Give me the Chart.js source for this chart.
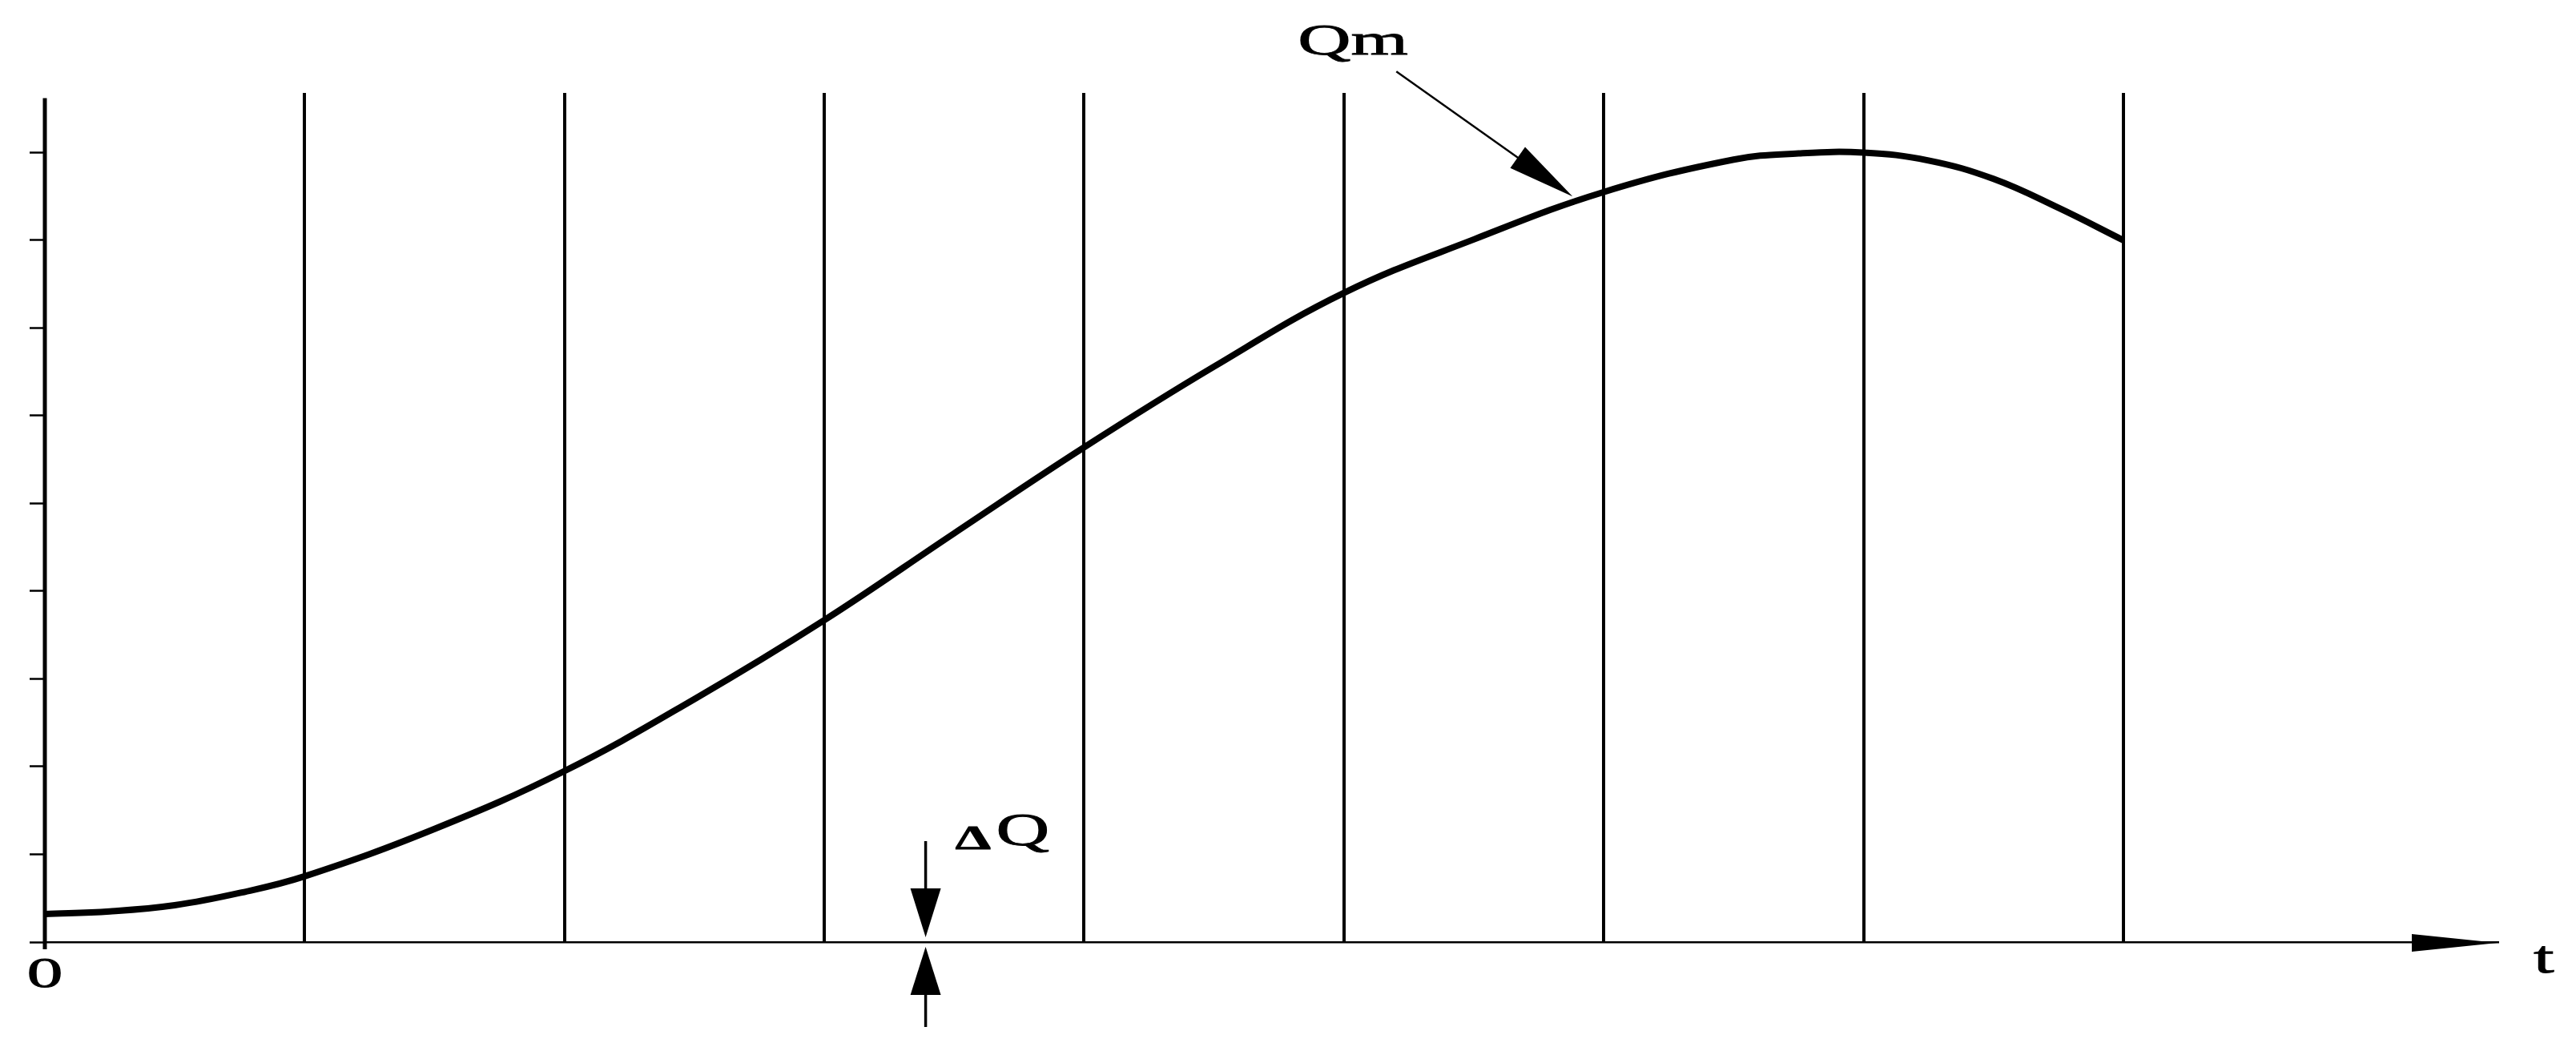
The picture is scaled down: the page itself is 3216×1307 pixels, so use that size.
<!DOCTYPE html>
<html>
<head>
<meta charset="utf-8">
<script src="https://cdn.jsdelivr.net/npm/chart.js@4.4.1/dist/chart.umd.min.js"></script>
<style>
  html, body { margin: 0; padding: 0; background: #fff; }
  canvas { display: block; background: #fff; }
</style>
</head>
<body>
<canvas id="chart" width="3216" height="1307"></canvas>
<script>
// curve: t in grid divisions, Q in y-tick units
const tValues = [0, 0.25, 0.5, 0.75, 1, 1.5, 2, 2.5, 3, 3.5, 4, 4.5, 5, 5.5, 6, 6.5, 6.75, 7, 7.25, 7.5, 7.75, 8];
const qValues = [0.32, 0.35, 0.42, 0.56, 0.75, 1.29, 1.95, 2.77, 3.67, 4.66, 5.64, 6.56, 7.40, 8.01, 8.55, 8.92, 8.99, 9.0, 8.91, 8.70, 8.37, 8.0];

// vertical lines and y tick marks
const tGrid = [1, 2, 3, 4, 5, 6, 7, 8];
const qTicks = [0, 1, 2, 3, 4, 5, 6, 7, 8, 9];

// axis ends
const tMax = 9.44;
const qMax = 9.68;
const qAxisTop = 9.62;

// where the annotations sit (data units)
const qmTip = { t: 5.88, q: 8.50 };
const dqAt = 3.39;

const serif = "'Liberation Serif', 'Times New Roman', serif";

// stretched serif text, like the original drawing
function wideText(ctx, text, x, y, size, sx, bold, align) {
    ctx.save();
    ctx.font = (bold ? "bold " : "") + size + "px " + serif;
    ctx.textBaseline = "alphabetic";
    ctx.translate(x, y);
    ctx.scale(sx, 1);
    ctx.textAlign = align || "left";
    ctx.fillStyle = "#000";
    ctx.strokeStyle = "#000";
    ctx.lineWidth = 0.8;
    ctx.fillText(text, 0, 0);
    ctx.strokeText(text, 0, 0);
    ctx.restore();
}

function tri(ctx, a, b, c) {
    ctx.beginPath();
    ctx.moveTo(a[0], a[1]);
    ctx.lineTo(b[0], b[1]);
    ctx.lineTo(c[0], c[1]);
    ctx.closePath();
    ctx.fill();
}

const annotations = {
    id: "annotations",
    afterDraw(chart) {
        const ctx = chart.ctx;
        const area = chart.chartArea;
        const xs = chart.scales.x;
        const ys = chart.scales.y;
        ctx.save();
        ctx.fillStyle = "#000";
        ctx.strokeStyle = "#000";

        // y axis, running a little below the t axis
        ctx.lineWidth = 5;
        ctx.beginPath();
        ctx.moveTo(area.left, ys.getPixelForValue(qAxisTop));
        ctx.lineTo(area.left, area.bottom + 9);
        ctx.stroke();

        // arrow head at the end of the t axis
        tri(ctx, [area.right, area.bottom + 1], [area.right - 107, area.bottom - 10], [area.right - 107, area.bottom + 12]);

        // Qm leader with arrow
        const tx = xs.getPixelForValue(qmTip.t);
        const ty = ys.getPixelForValue(qmTip.q);
        const dx = 220, dy = 156;
        const len = Math.hypot(dx, dy);
        const ux = dx / len, uy = dy / len;
        ctx.lineWidth = 2.5;
        ctx.beginPath();
        ctx.moveTo(tx - dx, ty - dy);
        ctx.lineTo(tx - ux * 60, ty - uy * 60);
        ctx.stroke();
        const bx = tx - ux * 84, by = ty - uy * 84;
        tri(ctx, [tx, ty], [bx - uy * 16, by + ux * 16], [bx + uy * 16, by - ux * 16]);
        wideText(ctx, "Qm", tx - 343, ty - 177, 54, 1.7, false);

        // ΔQ marker
        const ax = xs.getPixelForValue(dqAt);
        const ay = area.bottom;
        ctx.lineWidth = 3.5;
        ctx.beginPath();
        ctx.moveTo(ax, ay - 126);
        ctx.lineTo(ax, ay - 67);
        ctx.moveTo(ax, ay + 66);
        ctx.lineTo(ax, ay + 106);
        ctx.stroke();
        tri(ctx, [ax, ay - 6], [ax - 19, ay - 67], [ax + 19, ay - 67]);
        tri(ctx, [ax, ay + 6], [ax - 19, ay + 66], [ax + 19, ay + 66]);
        wideText(ctx, "Δ", ax + 37, ay - 116, 42, 1.7, true);
        wideText(ctx, "Q", ax + 88, ay - 121, 56, 1.65, false);

        // axis labels
        wideText(ctx, "t", area.right + 45, area.bottom + 38, 56, 1.65, false);
        wideText(ctx, "0", area.left, area.bottom + 56, 53, 1.7, false, "center");

        ctx.restore();
    }
};

const points = tValues.map((t, i) => ({ x: t, y: qValues[i] }));

new Chart(document.getElementById("chart"), {
    type: "line",
    data: {
        datasets: [{
            data: points,
            borderColor: "#000",
            borderWidth: 8,
            pointRadius: 0,
            fill: false,
            tension: 0.4
        }]
    },
    options: {
        responsive: false,
        animation: false,
        devicePixelRatio: 1,
        layout: { padding: { left: 37, right: 98, top: 116, bottom: 131 } },
        plugins: {
            legend: { display: false },
            tooltip: { enabled: false },
            title: { display: false }
        },
        scales: {
            x: {
                type: "linear",
                min: 0,
                max: tMax,
                afterBuildTicks: (scale) => { scale.ticks = tGrid.map(v => ({ value: v })); },
                ticks: { display: false },
                grid: {
                    color: "#000",
                    lineWidth: 4,
                    drawTicks: false
                },
                border: { display: true, color: "#000", width: 2.5 }
            },
            y: {
                type: "linear",
                min: 0,
                max: qMax,
                afterBuildTicks: (scale) => { scale.ticks = qTicks.map(v => ({ value: v })); },
                ticks: { display: false },
                grid: {
                    drawOnChartArea: false,
                    drawTicks: true,
                    tickLength: 19,
                    tickColor: "#000",
                    tickWidth: 2.5
                },
                border: { display: false }
            }
        }
    },
    plugins: [annotations]
});
</script>
</body>
</html>
